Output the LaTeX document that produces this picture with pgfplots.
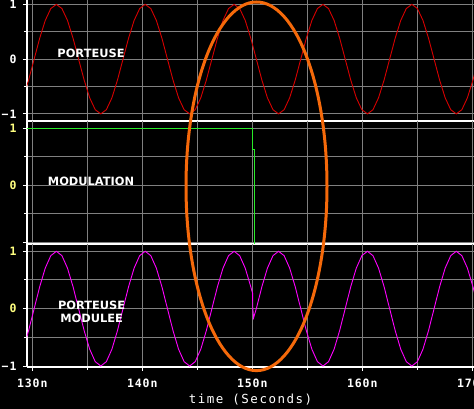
\documentclass[border=0pt]{standalone}
\usepackage{fontspec}
\setmainfont{DejaVu Sans}
\newfontfamily\tickfont[LetterSpace=8]{DejaVu Sans Mono}
\newfontfamily\labfont[LetterSpace=12]{DejaVu Sans Mono}
\usepackage{pgfplots}
\pgfplotsset{compat=1.18}
\definecolor{gridc}{RGB}{128,128,128}
\definecolor{carrier}{RGB}{215,0,0}
\definecolor{modc}{RGB}{40,235,40}
\definecolor{modul}{RGB}{255,0,255}
\definecolor{ylab}{RGB}{255,255,128}
\definecolor{oval}{RGB}{245,105,10}
\pgfplotsset{
  panel/.style={
    scale only axis, width=447pt,
    xmin=129.52, xmax=170.16,
    axis x line*=bottom, axis y line*=left,
    axis line style={white, line width=1.5pt, -},
    xtick={130,140,150,160,170}, minor xtick={135,145,155,165},
    ytick={-1,0,1}, minor ytick={-0.5,0.5},
    grid=both,
    major grid style={gridc, line width=1pt},
    minor grid style={gridc, line width=1pt},
    tick align=outside,
    major tick length=4pt, minor tick length=3pt,
    tick style={white, line width=1pt},
    ticklabel style={font=\tickfont\bfseries\fontsize{11.5pt}{13pt}\selectfont},
    yticklabel style={xshift=-3pt},
    xticklabel style={yshift=-4pt},
  },
}
\tikzset{lab/.style={white, font=\bfseries\fontsize{11.4pt}{13pt}\selectfont, align=center}}
\begin{document}
\begin{tikzpicture}
\path[use as bounding box, fill=black] (0,0) rectangle (474pt,409pt);
% Panel 1: PORTEUSE
\begin{axis}[panel, at={(27pt,288pt)}, anchor=south west, height=121pt,
  ymin=-1.13, ymax=1.08, xticklabels={}, xtick style={draw=none},
  yticklabels={−1,0,1}, yticklabel style={text=white}]
\addplot[carrier, line width=0.9pt] coordinates {
(129.16,-0.7071) (129.665,-0.3827) (130.17,0) (130.675,0.3827) (131.18,0.7071) (131.685,0.9239) (132.19,1) (132.695,0.9239) (133.2,0.7071) (133.705,0.3827) (134.21,0) (134.715,-0.3827) (135.22,-0.7071) (135.725,-0.9239) (136.23,-1) (136.735,-0.9239) (137.24,-0.7071) (137.745,-0.3827) (138.25,0) (138.755,0.3827) (139.26,0.7071) (139.765,0.9239) (140.27,1) (140.775,0.9239) (141.28,0.7071) (141.785,0.3827) (142.29,0) (142.795,-0.3827) (143.3,-0.7071) (143.805,-0.9239) (144.31,-1) (144.815,-0.9239) (145.32,-0.7071) (145.825,-0.3827) (146.33,0) (146.835,0.3827) (147.34,0.7071) (147.845,0.9239) (148.35,1) (148.855,0.9239) (149.36,0.7071) (149.865,0.3827) (150.37,0) (150.875,-0.3827) (151.38,-0.7071) (151.885,-0.9239) (152.39,-1) (152.895,-0.9239) (153.4,-0.7071) (153.905,-0.3827) (154.41,0) (154.915,0.3827) (155.42,0.7071) (155.925,0.9239) (156.43,1) (156.935,0.9239) (157.44,0.7071) (157.945,0.3827) (158.45,0) (158.955,-0.3827) (159.46,-0.7071) (159.965,-0.9239) (160.47,-1) (160.975,-0.9239) (161.48,-0.7071) (161.985,-0.3827) (162.49,0) (162.995,0.3827) (163.5,0.7071) (164.005,0.9239) (164.51,1) (165.015,0.9239) (165.52,0.7071) (166.025,0.3827) (166.53,0) (167.035,-0.3827) (167.54,-0.7071) (168.045,-0.9239) (168.55,-1) (169.055,-0.9239) (169.56,-0.7071) (170.065,-0.3827) (170.57,0)
};
\node[lab] at (axis cs:135.34,0.11) {PORTEUSE};
\end{axis}
% Panel 2: MODULATION
\begin{axis}[panel, at={(27pt,165pt)}, anchor=south west, height=123pt,
  ymin=-1.035, ymax=1.128, xticklabels={}, xtick style={draw=none},
  yticklabels={,0,1}, yticklabel style={text=ylab}]
\addplot[modc, line width=0.9pt] coordinates {
(129.3,1) (150.04,1) (150.04,0.62) (150.18,0.62) (150.18,-1.1)
};
\node[lab] at (axis cs:135.34,0.063) {MODULATION};
\end{axis}
% Panel 3: PORTEUSE MODULEE
\begin{axis}[panel, at={(27pt,42pt)}, anchor=south west, height=123pt,
  ymin=-1.017, ymax=1.127,
  xticklabels={130n,140n,150n,160n,170n}, xticklabel style={text=white},
  yticklabels={\textcolor{white}{−1},0,1}, yticklabel style={text=ylab},
  xlabel={time (Seconds)},
  xlabel style={font=\labfont\fontsize{12.5pt}{14pt}\selectfont, text=white,
    at={(axis description cs:0.5,0)}, anchor=center, yshift=-33pt}]
\addplot[modul, line width=0.9pt] coordinates {
(129.16,-0.7071) (129.665,-0.3827) (130.17,0) (130.675,0.3827) (131.18,0.7071) (131.685,0.9239) (132.19,1) (132.695,0.9239) (133.2,0.7071) (133.705,0.3827) (134.21,0) (134.715,-0.3827) (135.22,-0.7071) (135.725,-0.9239) (136.23,-1) (136.735,-0.9239) (137.24,-0.7071) (137.745,-0.3827) (138.25,0) (138.755,0.3827) (139.26,0.7071) (139.765,0.9239) (140.27,1) (140.775,0.9239) (141.28,0.7071) (141.785,0.3827) (142.29,0) (142.795,-0.3827) (143.3,-0.7071) (143.805,-0.9239) (144.31,-1) (144.815,-0.9239) (145.32,-0.7071) (145.825,-0.3827) (146.33,0) (146.835,0.3827) (147.34,0.7071) (147.845,0.9239) (148.35,1) (148.855,0.9239) (149.36,0.7071) (149.865,0.3827)
(150.03,0.27) (150.05,0.0) (150.12,-0.16) (150.37,0) (150.875,0.3827) (151.38,0.7071) (151.885,0.9239) (152.39,1) (152.895,0.9239) (153.4,0.7071) (153.905,0.3827) (154.41,0) (154.915,-0.3827) (155.42,-0.7071) (155.925,-0.9239) (156.43,-1) (156.935,-0.9239) (157.44,-0.7071) (157.945,-0.3827) (158.45,0) (158.955,0.3827) (159.46,0.7071) (159.965,0.9239) (160.47,1) (160.975,0.9239) (161.48,0.7071) (161.985,0.3827) (162.49,0) (162.995,-0.3827) (163.5,-0.7071) (164.005,-0.9239) (164.51,-1) (165.015,-0.9239) (165.52,-0.7071) (166.025,-0.3827) (166.53,0) (167.035,0.3827) (167.54,0.7071) (168.045,0.9239) (168.55,1) (169.055,0.9239) (169.56,0.7071) (170.065,0.3827) (170.57,0)
};
\node[lab] at (axis cs:135.4,-0.056) {PORTEUSE\\MODULEE};
\end{axis}
\draw[oval, line width=3pt] (256.5pt,222.7pt) ellipse [x radius=70.5pt, y radius=184.3pt];
\end{tikzpicture}
\end{document}
